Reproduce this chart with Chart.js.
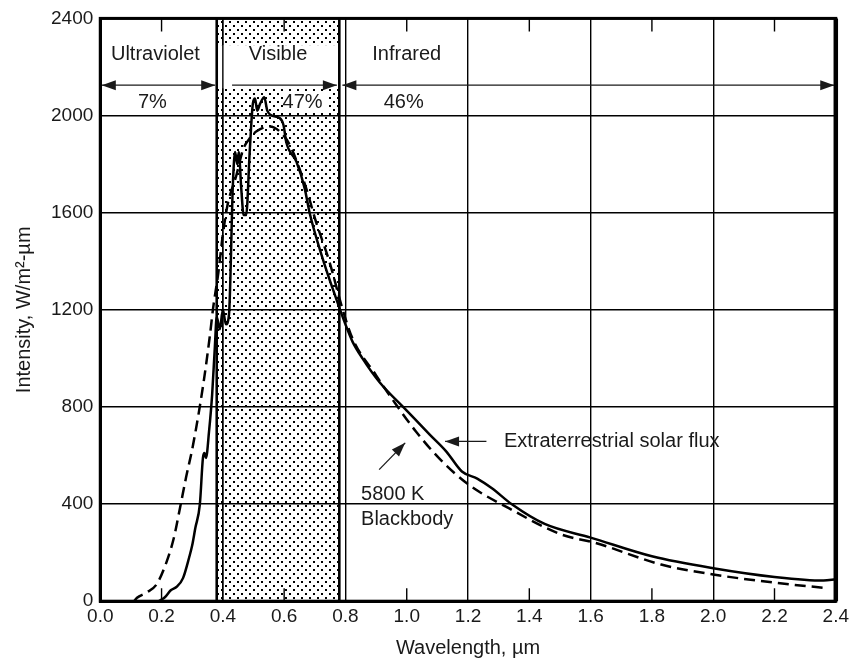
<!DOCTYPE html>
<html>
<head>
<meta charset="utf-8">
<script src="https://cdn.jsdelivr.net/npm/chart.js@4.4.1/dist/chart.umd.min.js"></script>
<style>
  html, body { margin: 0; padding: 0; background: #fff; }
  #wrap { width: 853px; height: 660px; }
</style>
</head>
<body>
<div id="wrap"><canvas id="chart"></canvas></div>
<script>
// Extraterrestrial solar flux (solid line), wavelength in um, intensity in W/m2-um
const solarWavelength = [0.19, 0.21, 0.23, 0.25, 0.27, 0.29, 0.30, 0.31, 0.325, 0.335, 0.34, 0.345, 0.355, 0.365, 0.374, 0.38, 0.39, 0.40, 0.41, 0.42, 0.433, 0.44, 0.447, 0.452, 0.46, 0.468, 0.476, 0.488, 0.498, 0.505, 0.512, 0.522, 0.535, 0.545, 0.56, 0.585, 0.598, 0.607, 0.64, 0.667, 0.683, 0.726, 0.77, 0.80, 0.823, 0.856, 0.91, 1.0, 1.075, 1.13, 1.18, 1.23, 1.278, 1.343, 1.45, 1.6, 1.8, 2.0, 2.2, 2.36, 2.4];
const solarIntensity = [0, 15, 45, 60, 95, 180, 230, 300, 400, 590, 610, 590, 700, 850, 1050, 1170, 1120, 1200, 1140, 1180, 1726, 1850, 1800, 1850, 1700, 1590, 1590, 1860, 2050, 2070, 2020, 2050, 2075, 2020, 2000, 1990, 1960, 1890, 1810, 1700, 1600, 1410, 1245, 1140, 1069, 999, 904, 785, 686, 615, 534, 505, 465, 399, 318, 262, 185, 136, 100, 85, 90];

// 5800 K blackbody (dashed line)
const blackbodyWavelength = [0.11, 0.12, 0.15, 0.184, 0.217, 0.24, 0.26, 0.28, 0.303, 0.336, 0.358, 0.368, 0.385, 0.40, 0.415, 0.444, 0.466, 0.49, 0.51, 0.553, 0.585, 0.618, 0.65, 0.672, 0.704, 0.748, 0.79, 0.823, 0.9, 0.965, 1.03, 1.106, 1.203, 1.333, 1.506, 1.616, 1.83, 2.0, 2.21, 2.36];
const blackbodyIntensity = [0, 14, 35, 70, 164, 260, 383, 510, 645, 892, 1097, 1205, 1350, 1510, 1630, 1753, 1860, 1910, 1935, 1955, 1935, 1880, 1781, 1700, 1562, 1397, 1205, 1082, 930, 810, 699, 588, 479, 383, 274, 240, 151, 110, 75, 55];

// visible band limits (um) and the height it is shaded to
const visibleBand = [0.38, 0.78];
const bandTop = [2400, 2400];

const regionNames = ["Ultraviolet", "Visible", "Infrared"];
const regionShares = ["7%", "47%", "46%"];

const FONT = "'Liberation Sans', Arial, Helvetica, sans-serif";
const INK = "#1a1a1a";

function makeStipple() {
  var tile = document.createElement("canvas");
  tile.width = 8;
  tile.height = 8;
  var g = tile.getContext("2d");
  g.fillStyle = "#000";
  g.fillRect(1, 1, 2, 2);
  g.fillRect(5, 5, 2, 2);
  return g.createPattern(tile, "repeat");
}

function zip(xs, ys) {
  return xs.map(function (v, i) { return { x: v, y: ys[i] }; });
}

function arrowHead(ctx, x1, y1, x2, y2) {
  var ang = Math.atan2(y2 - y1, x2 - x1);
  var len = 14, half = 5;
  ctx.beginPath();
  ctx.moveTo(x2, y2);
  ctx.lineTo(x2 - len * Math.cos(ang) + half * Math.sin(ang), y2 - len * Math.sin(ang) - half * Math.cos(ang));
  ctx.lineTo(x2 - len * Math.cos(ang) - half * Math.sin(ang), y2 - len * Math.sin(ang) + half * Math.cos(ang));
  ctx.closePath();
  ctx.fill();
}

function arrow(ctx, x1, y1, x2, y2, headStart, headEnd) {
  ctx.beginPath();
  ctx.moveTo(x1, y1);
  ctx.lineTo(x2, y2);
  ctx.stroke();
  if (headEnd) arrowHead(ctx, x1, y1, x2, y2);
  if (headStart) arrowHead(ctx, x2, y2, x1, y1);
}

const decorations = {
  id: "decorations",
  afterDatasetsDraw(chart) {
    const ctx = chart.ctx;
    const a = chart.chartArea;
    const x = chart.scales.x;
    const y = chart.scales.y;
    const px = function (v) { return x.getPixelForValue(v); };
    const py = function (v) { return y.getPixelForValue(v); };

    ctx.save();
    // white strip behind the band title, and behind "47%"
    ctx.fillStyle = "#fff";
    ctx.fillRect(px(visibleBand[0]), py(2290), px(visibleBand[1]) - px(visibleBand[0]), py(2112) - py(2290));
    ctx.fillRect(px(0.6), py(2100), px(0.74) - px(0.6), py(2015) - py(2100));

    // grid line at 0.4 runs through the band
    ctx.strokeStyle = "#000";
    ctx.lineWidth = 1.4;
    ctx.beginPath();
    ctx.moveTo(px(0.4), a.top);
    ctx.lineTo(px(0.4), a.bottom);
    ctx.stroke();

    // band edges
    ctx.lineWidth = 2.6;
    visibleBand.forEach(function (v) {
      ctx.beginPath();
      ctx.moveTo(px(v), a.top);
      ctx.lineTo(px(v), a.bottom);
      ctx.stroke();
    });

    // region labels and arrows
    ctx.fillStyle = INK;
    ctx.font = "20px " + FONT;
    ctx.textAlign = "center";
    ctx.textBaseline = "middle";
    const namePos = [0.18, 0.58, 1.0];
    const sharePos = [0.17, 0.66, 0.99];
    regionNames.forEach(function (t, i) { ctx.fillText(t, px(namePos[i]), py(2252)); });
    regionShares.forEach(function (t, i) { ctx.fillText(t, px(sharePos[i]), py(2052)); });

    ctx.strokeStyle = INK;
    ctx.fillStyle = INK;
    ctx.lineWidth = 1.3;
    const ay = py(2125);
    arrow(ctx, px(0.005), ay, px(0.375), ay, true, true);
    arrow(ctx, px(0.43), ay, px(0.772), ay, false, true);
    arrow(ctx, px(0.79), ay, px(2.395), ay, true, true);

    // callouts
    arrow(ctx, px(1.26), py(658), px(1.125), py(658), false, true);
    ctx.textAlign = "left";
    ctx.fillText("Extraterrestrial solar flux", px(1.317), py(658));
    arrow(ctx, px(0.91), py(542), px(0.995), py(652), false, true);
    ctx.fillText("5800 K", px(0.851), py(440));
    ctx.fillText("Blackbody", px(0.851), py(338));

    // inner minor ticks at the unlabelled-grid positions
    ctx.strokeStyle = "#000";
    ctx.lineWidth = 1.4;
    x.ticks.forEach(function (t, i) {
      if (i % 2 === 1) {
        const xp = px(t.value);
        ctx.beginPath();
        ctx.moveTo(xp, a.bottom);
        ctx.lineTo(xp, a.bottom - 13);
        ctx.moveTo(xp, a.top);
        ctx.lineTo(xp, a.top + 13);
        ctx.stroke();
      }
    });

    // frame
    ctx.lineWidth = 3;
    ctx.strokeRect(a.left, a.top, a.right - a.left, a.bottom - a.top);
    ctx.lineWidth = 4.5;
    ctx.beginPath();
    ctx.moveTo(a.right, a.top);
    ctx.lineTo(a.right, a.bottom);
    ctx.stroke();
    ctx.restore();
  }
};

new Chart(document.getElementById("chart"), {
  type: "line",
  data: {
    datasets: [
      {
        label: "Extraterrestrial solar flux",
        data: zip(solarWavelength, solarIntensity),
        borderColor: "#000",
        borderWidth: 2.5,
        pointRadius: 0,
        cubicInterpolationMode: "monotone",
        fill: false,
        order: 1,
      },
      {
        label: "5800 K Blackbody",
        data: zip(blackbodyWavelength, blackbodyIntensity),
        borderColor: "#000",
        borderWidth: 2.5,
        borderDash: [11, 6],
        pointRadius: 0,
        cubicInterpolationMode: "monotone",
        fill: false,
        order: 2,
      },
      {
        label: "Visible",
        data: zip(visibleBand, bandTop),
        borderWidth: 0,
        borderColor: "rgba(0,0,0,0)",
        backgroundColor: makeStipple(),
        pointRadius: 0,
        fill: "origin",
        order: 3,
      },
    ],
  },
  options: {
    responsive: true,
    maintainAspectRatio: false,
    animation: false,
    layout: { padding: { left: 12, right: 12, top: 6, bottom: 0 } },
    plugins: {
      legend: { display: false },
      tooltip: { enabled: false },
    },
    scales: {
      x: {
        type: "linear",
        min: 0,
        max: 2.4,
        ticks: {
          stepSize: 0.2,
          color: INK,
          font: { family: FONT, size: 19 },
          padding: 4,
          maxRotation: 0,
          autoSkip: false,
          callback: function (v) { return v.toFixed(1); },
        },
        grid: {
          drawTicks: false,
          lineWidth: 1.4,
          color: function (c) { return c.index % 2 === 0 ? "#000" : "rgba(0,0,0,0)"; },
        },
        border: { display: true, color: "#000", width: 3 },
        title: {
          display: true,
          text: "Wavelength, µm",
          color: INK,
          font: { family: FONT, size: 20 },
          padding: { top: 4, bottom: 0 },
        },
      },
      y: {
        min: 0,
        max: 2400,
        ticks: {
          stepSize: 400,
          color: INK,
          font: { family: FONT, size: 19 },
          padding: 7,
          callback: function (v) { return String(v); },
        },
        grid: { drawTicks: false, lineWidth: 1.4, color: "#000" },
        border: { display: true, color: "#000", width: 3 },
        title: {
          display: true,
          text: "Intensity, W/m²-µm",
          color: INK,
          font: { family: FONT, size: 20 },
          padding: { top: 0, bottom: 8 },
        },
      },
    },
  },
  plugins: [decorations],
});
</script>
</body>
</html>
